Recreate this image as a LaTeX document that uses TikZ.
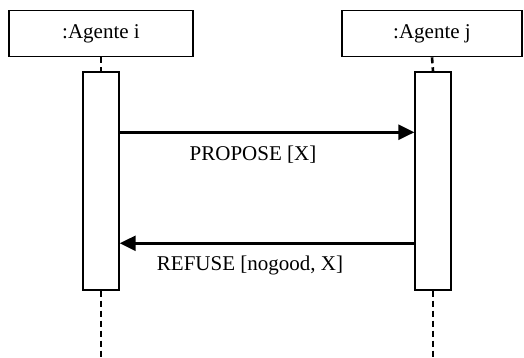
\documentclass[tikz,border=0pt]{standalone}
\usepackage{fontspec}
\setmainfont{Liberation Serif}
\usetikzlibrary{arrows.meta,positioning}

\begin{document}
\begin{tikzpicture}[x=1pt, y=-1pt, every node/.style={font=\fontsize{21}{25}\selectfont},
  hdr/.style={draw, line width=1.6pt, minimum width=184pt, minimum height=46pt, inner sep=0pt},
  act/.style={draw, line width=1.4pt, minimum width=36pt, minimum height=218pt, inner sep=0pt},
  msg/.style={line width=2.8pt, -{Triangle[length=16pt,width=15pt]}},
  life/.style={line width=2.6pt, dash pattern=on 6pt off 4pt}]
\useasboundingbox (0,0) rectangle (524,357);
% Agents
\node[hdr] (hdrI) at (101,33.5) {:Agente i};
\node[hdr, minimum width=180pt] (hdrJ) at (432,33.5) {:Agente j};
% Activation bars
\node[act] (actI) at (101,181) {};
\node[act] (actJ) at (433,181) {};
% Lifelines
\coordinate (endI) at (101,357);
\coordinate (endJ) at (433,357);
\draw[life] (hdrI.south) -- (actI.north);
\draw[life] (hdrJ.south) -- (actJ.north);
\draw[life] (actI.south) -- (endI);
\draw[life] (actJ.south) -- (endJ);
% Messages
\draw[msg] ([yshift=-61pt]actI.north east) -- ([yshift=-61pt]actJ.north west);
\node (propose) at (253,155) {PROPOSE [X]};
\draw[msg] ([yshift=-172pt]actJ.north west) -- ([yshift=-172pt]actI.north east);
\node (refuse) at (250,265) {REFUSE [nogood, X]};
\end{tikzpicture}
\end{document}
